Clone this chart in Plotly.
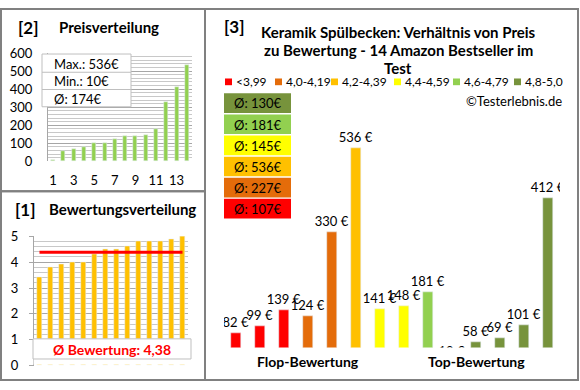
import plotly.graph_objects as go

W, H = 580, 390
FONT = "Lato"

# ---------------- data ----------------
ratings = [3.4, 3.8, 3.9, 4.0, 4.0, 4.3, 4.5, 4.5, 4.6, 4.8, 4.8, 4.8, 4.9, 5.0]
prices = [82, 99, 139, 124, 330, 536, 141, 148, 181, 10, 58, 69, 101, 412]
positions = list(range(1, 15))
bin_labels = ["<3,99", "4,0-4,19", "4,2-4,39", "4,4-4,59", "4,6-4,79", "4,8-5,0"]
bin_lower = [0.0, 4.0, 4.2, 4.4, 4.6, 4.8]
bin_colors = ["#FF0000", "#E46C0A", "#FFC000", "#FFFF00", "#92D050", "#77933C"]
group_labels = ["Flop-Bewertung", "Top-Bewertung"]
group_centers = [4, 11]

sorted_prices = sorted(prices)
mean_price = sum(prices) / len(prices)
mean_rating = sum(ratings) / len(ratings)


def rnd(v):
    return int(v + 0.5)


def bin_of(r):
    idx = 0
    for i, lo in enumerate(bin_lower):
        if r >= lo - 1e-9:
            idx = i
    return idx


bins = [bin_of(r) for r in ratings]


def fx(px):
    return px / W


def fy(py):
    return 1 - py / H


GRID = "#A6A6A6"
MINOR = "#C8C8C8"
BORDER = "#808080"
TXT = "#000000"

fig = go.Figure()

# Panel [2] price distribution
fig.add_trace(go.Bar(x=positions, y=sorted_prices, marker_color="#92D050", width=0.4,
                     xaxis="x", yaxis="y", showlegend=False, hoverinfo="skip"))

# Panel [1] rating distribution
fig.add_trace(go.Bar(x=positions, y=ratings, marker_color="#FFC000", width=0.45,
                     xaxis="x2", yaxis="y2", showlegend=False, hoverinfo="skip"))
fig.add_trace(go.Scatter(x=positions, y=[mean_rating] * len(positions), mode="lines",
                         line=dict(color="#FF0000", width=3), xaxis="x2", yaxis="y2",
                         showlegend=False, hoverinfo="skip"))

# Panel [3] price by rating, one trace per rating bin
for b in range(len(bin_labels)):
    xs = [p for p, g in zip(positions, bins) if g == b]
    ys = [v for v, g in zip(prices, bins) if g == b]
    fig.add_trace(go.Bar(x=xs, y=ys, marker_color=bin_colors[b], width=0.38,
                         text=[f"{v} €" for v in ys], textposition="outside",
                         constraintext="none", cliponaxis=True,
                         textfont=dict(family=FONT, size=13, color=TXT),
                         xaxis="x3", yaxis="y3", showlegend=False, hoverinfo="skip"))

shapes = []
annotations = []

# panel borders
for (x0, y0, x1, y1) in [(1, 1, 205, 191), (1, 191, 205, 388), (205, 1, 578, 388)]:
    shapes.append(dict(type="rect", xref="paper", yref="paper", x0=fx(x0), x1=fx(x1),
                       y0=fy(y1), y1=fy(y0), line=dict(color=BORDER, width=2),
                       fillcolor="rgba(0,0,0,0)", layer="above"))


def txt(x, y, s, size=13, bold=False, color=TXT, xanchor="left"):
    annotations.append(dict(xref="paper", yref="paper", x=fx(x), y=fy(y), text=f"<b>{s}</b>" if bold else s,
                            showarrow=False, xanchor=xanchor, yanchor="middle",
                            font=dict(family=FONT, size=size, color=color)))


txt(16, 20, "[2]", size=17, bold=True)
txt(57, 20, "Preisverteilung", size=15, bold=True)
txt(13, 210, "[1]", size=17, bold=True)
txt(47, 210, "Bewertungsverteilung", size=15, bold=True)
txt(222, 19, "[3]", size=17, bold=True)
title_lines = ["Keramik Spülbecken: Verhältnis von Preis",
               "zu Bewertung - 14 Amazon Bestseller im", "Test"]
for i, line in enumerate(title_lines):
    txt(398, 25 + 19 * i, line, size=15, bold=True, xanchor="center")

# price summary box (panel 2)
shapes.append(dict(type="rect", xref="paper", yref="paper", x0=fx(42), x1=fx(131),
                   y0=fy(103), y1=fy(48), line=dict(color="#BFBFBF", width=1),
                   fillcolor="white", layer="above"))
for yy in (67, 85):
    shapes.append(dict(type="line", xref="paper", yref="paper", x0=fx(42), x1=fx(131),
                       y0=fy(yy), y1=fy(yy), line=dict(color="#BFBFBF", width=1), layer="above"))
summary = [f"Max.: {max(prices)}€", f"Min.: {min(prices)}€", f"Ø: {rnd(mean_price)}€"]
for i, s in enumerate(summary):
    txt(52, 58 + 18.5 * i, s, size=13)

# rating mean box (panel 1): white cover down to axis, then bordered box
shapes.append(dict(type="rect", xref="paper", yref="paper", x0=fx(33.5), x1=fx(191),
                   y0=fy(372), y1=fy(345), line=dict(width=0),
                   fillcolor="white", layer="above"))
shapes.append(dict(type="rect", xref="paper", yref="paper", x0=fx(33), x1=fx(191),
                   y0=fy(366), y1=fy(345), line=dict(color="#BFBFBF", width=1),
                   fillcolor="white", layer="above"))
txt(112, 356, "Ø Bewertung: " + f"{mean_rating:.2f}".replace(".", ","), size=14, bold=True,
    color="#FF0000", xanchor="center")

# legend for panel 3
sq_left = [225, 275, 331, 394, 453, 514]
for b, lab in enumerate(bin_labels):
    shapes.append(dict(type="rect", xref="paper", yref="paper", x0=fx(sq_left[b]), x1=fx(sq_left[b] + 7),
                       y0=fy(80.5), y1=fy(73.5), line=dict(width=0), fillcolor=bin_colors[b], layer="above"))
    txt(sq_left[b] + 8.5, 77, lab, size=12)

txt(564, 97, "©Testerlebnis.de", size=13, xanchor="right")

# average price boxes per bin (olive on top, red at bottom)
for k, b in enumerate(reversed(range(len(bin_labels)))):
    vals = [v for v, g in zip(prices, bins) if g == b]
    avg = rnd(sum(vals) / len(vals))
    top = 89 + 22 * k
    shapes.append(dict(type="rect", xref="paper", yref="paper", x0=fx(224), x1=fx(291),
                       y0=fy(top + 20.5), y1=fy(top), line=dict(width=0),
                       fillcolor=bin_colors[b], layer="above"))
    txt(257.5, top + 10.5, f"Ø: {avg}€", size=13, xanchor="center")

# category group labels
for lab, c in zip(group_labels, group_centers):
    annotations.append(dict(xref="x3", yref="paper", x=c, y=fy(369), text=f"<b>{lab}</b>",
                            showarrow=False, xanchor="center", yanchor="middle",
                            font=dict(family=FONT, size=14, color=TXT)))

fig.update_layout(
    width=W, height=H, margin=dict(l=0, r=0, t=0, b=0),
    paper_bgcolor="white", plot_bgcolor="white",
    barmode="overlay", bargap=0,
    font=dict(family=FONT, size=12, color=TXT),
    shapes=shapes, annotations=annotations,
    xaxis=dict(domain=[fx(48), fx(192)], range=[0.5, 14.5], tickvals=[1, 3, 5, 7, 9, 11, 13],
               ticks="", showgrid=False, zeroline=False, anchor="y", ticklabelstandoff=10,
               tickfont=dict(size=13, color=TXT), fixedrange=True),
    yaxis=dict(domain=[fy(160), fy(47)], range=[0, 600], dtick=100, showgrid=True, gridcolor=GRID,
               minor=dict(dtick=20, showgrid=True, gridcolor=MINOR, ticks=""),
               showline=True, linecolor=GRID, zeroline=False, ticks="", anchor="x",
               ticklabelstandoff=12, tickfont=dict(size=13, color=TXT), fixedrange=True),
    xaxis2=dict(domain=[fx(34), fx(188)], range=[0.5, 14.5], showticklabels=False, ticks="",
                showgrid=False, zeroline=False, anchor="y2", fixedrange=True),
    yaxis2=dict(domain=[fy(373), fy(238)], range=[0, 5], dtick=1, showgrid=True, gridcolor=GRID,
                minor=dict(dtick=0.2, showgrid=True, gridcolor=MINOR, ticks=""),
                showline=True, linecolor=GRID, zeroline=False, ticks="outside", ticklen=4,
                tickcolor=GRID, anchor="x2", ticklabelstandoff=8,
                tickfont=dict(size=13, color=TXT), fixedrange=True),
    xaxis3=dict(domain=[fx(224), fx(560)], range=[0.5, 14.5], visible=False, anchor="y3", fixedrange=True),
    yaxis3=dict(domain=[fy(354), fy(119)], range=[46, 600], visible=False, anchor="x3", fixedrange=True),
)

fig.write_html("out.html", config={"displayModeBar": False},
               post_script="document.body.style.margin='0px';document.body.style.padding='0px';")
